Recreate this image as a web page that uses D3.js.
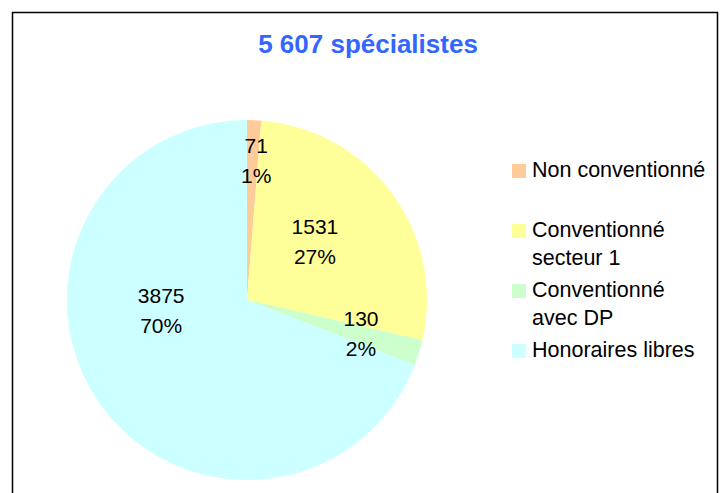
<!DOCTYPE html>
<html>
<head>
<meta charset="utf-8">
<script src="https://cdn.jsdelivr.net/npm/d3@7"></script>
<style>
  body { margin: 0; background: #fff; }
  text { font-family: "Liberation Sans", Arial, sans-serif; }
</style>
</head>
<body>
<svg width="726" height="493"></svg>
<script>
const title = "5 607 spécialistes";
const categories = ["Non conventionné", "Conventionné secteur 1", "Conventionné avec DP", "Honoraires libres"];
const legendLines = [["Non conventionné"], ["Conventionné", "secteur 1"], ["Conventionné", "avec DP"], ["Honoraires libres"]];
const values = [71, 1531, 130, 3875];
const percents = ["1%", "27%", "2%", "70%"];
const colors = ["#FFCC99", "#FFFF99", "#CCFFCC", "#CCFFFF"];

// where excel dropped each label: radius as a share of the pie, angle nudge in degrees
const labelRadius = [0.78, 0.5, 0.66, 0.48];
const labelNudge = [1.5, -4.7, -0.7, 27.7];

const svg = d3.select("svg"),
      cx = 247, cy = 300, radius = 180;

svg.append("rect")
  .attr("x", 12.5).attr("y", 12.5)
  .attr("width", 705).attr("height", 520)
  .attr("fill", "none")
  .attr("stroke", "#000")
  .attr("stroke-width", 1.5);

svg.append("text")
  .attr("x", 368).attr("y", 53)
  .attr("text-anchor", "middle")
  .attr("font-size", 26)
  .attr("font-weight", "bold")
  .attr("fill", "#3366FF")
  .text(title);

const data = categories.map((c, i) => ({ name: c, value: values[i], pct: percents[i], color: colors[i], i }));

const pie = d3.pie().sort(null).value(d => d.value);
const arc = d3.arc().innerRadius(0).outerRadius(radius);
const arcs = pie(data);

const g = svg.append("g").attr("transform", `translate(${cx},${cy})`);

g.selectAll("path")
  .data(arcs)
  .join("path")
  .attr("d", arc)
  .attr("fill", d => d.data.color);

const labels = g.selectAll("g.lbl")
  .data(arcs)
  .join("g")
  .attr("class", "lbl")
  .attr("transform", d => {
    const a = (d.startAngle + d.endAngle) / 2 + labelNudge[d.data.i] * Math.PI / 180;
    const r = labelRadius[d.data.i] * radius;
    return `translate(${r * Math.sin(a)},${-r * Math.cos(a)})`;
  });

labels.append("text")
  .attr("text-anchor", "middle")
  .attr("y", -7)
  .attr("font-size", 21)
  .attr("fill", "#000")
  .text(d => d.data.value);

labels.append("text")
  .attr("text-anchor", "middle")
  .attr("y", 23)
  .attr("font-size", 21)
  .attr("fill", "#000")
  .text(d => d.data.pct);

// legend
const ly = d3.scalePoint().domain(categories).range([177, 357]);

const leg = svg.append("g").selectAll("g")
  .data(data)
  .join("g")
  .attr("transform", d => `translate(512,${ly(d.name)})`);

leg.append("rect")
  .attr("y", -13)
  .attr("width", 14).attr("height", 14)
  .attr("fill", d => d.color);

leg.append("text")
  .attr("x", 20)
  .attr("font-size", 21.5)
  .attr("fill", "#000")
  .selectAll("tspan")
  .data(d => legendLines[d.i])
  .join("tspan")
  .attr("x", 20)
  .attr("dy", (d, i) => i === 0 ? 0 : 28)
  .text(d => d);
</script>
</body>
</html>
